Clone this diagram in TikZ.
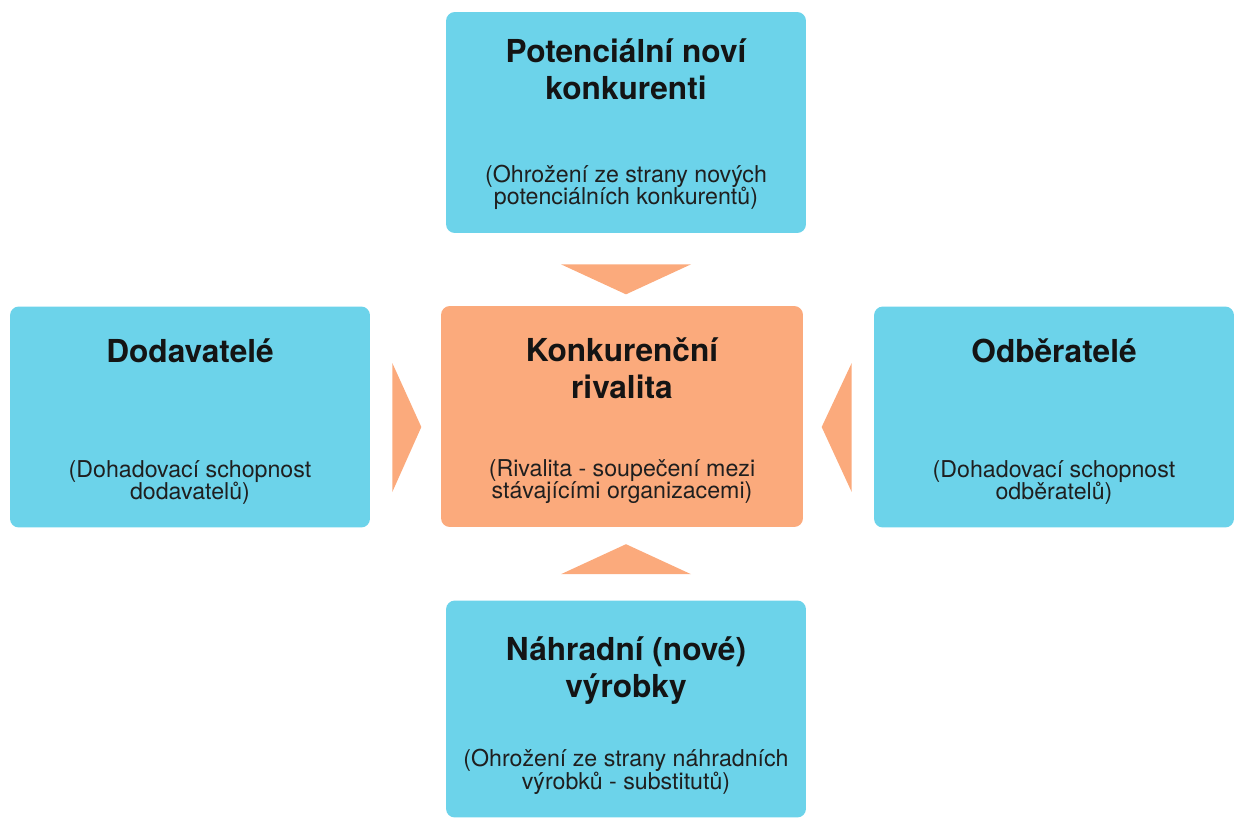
\documentclass[tikz,border=0pt]{standalone}
\usepackage{fontspec}
\setmainfont{TeX Gyre Heros}
\usepackage{tikz}
\usetikzlibrary{positioning,calc}
\usepackage{xcolor}
\definecolor{porterblue}{RGB}{108,211,234}
\definecolor{porterorange}{RGB}{251,170,124}

\begin{document}
\begin{tikzpicture}[
    x=0.02cm, y=-0.02cm,
    force/.style={rectangle, fill=porterblue, rounded corners=5pt,
                  minimum width=7.2cm, minimum height=4.42cm, inner sep=0pt},
    core/.style={force, fill=porterorange, minimum width=7.24cm},
    title/.style={align=center, inner sep=0pt, text=black!92,
                  font=\fontsize{18}{21}\selectfont\bfseries},
    note/.style={align=center, inner sep=0pt, text=black!88,
                 font=\fontsize{13.2}{12.8}\selectfont},
    wedge/.style={fill=porterorange}
]
\useasboundingbox (0,0) rectangle (1238,819);

\node[force] (entrants) at (626,122.5) {};
\node[force] (suppliers) at (190,417) {};
\node[core] (rivalry) at (622,416.5) {};
\node[force] (buyers) at (1054,417) {};
\node[force, minimum height=4.34cm] (substitutes) at (626,709) {};

\node[title, below=0.54cm of entrants.north] (entrantsT) {Potenciální noví\\konkurenti};
\node[note, above=0.46cm of entrants.south] (entrantsN) {(Ohrožení ze strany nových\\potenciálních konkurentů)};
\node[title, below=0.64cm of suppliers.north] (suppliersT) {Dodavatelé};
\node[note, above=0.46cm of suppliers.south] (suppliersN) {(Dohadovací schopnost\\dodavatelů)};
\node[title, below=0.64cm of rivalry.north] (rivalryT) {Konkurenční\\rivalita};
\node[note, above=0.46cm of rivalry.south] (rivalryN) {(Rivalita - soupečení mezi\\stávajícími organizacemi)};
\node[title, below=0.64cm of buyers.north] (buyersT) {Odběratelé};
\node[note, above=0.46cm of buyers.south] (buyersN) {(Dohadovací schopnost\\odběratelů)};
\node[title, below=0.73cm of substitutes.north] (substitutesT) {Náhradní (nové)\\výrobky};
\node[note, above=0.46cm of substitutes.south] (substitutesN) {(Ohrožení ze strany náhradních\\výrobků - substitutů)};

% wedges pointing at the rivalry box
\fill[wedge] ($(entrants.south)+(-65,31)$) -- ($(entrants.south)+(65,31)$) -- ($(entrants.south)+(0,61)$) -- cycle;
\fill[wedge] ($(substitutes.north)+(-65,-26)$) -- ($(substitutes.north)+(65,-26)$) -- ($(substitutes.north)+(0,-56)$) -- cycle;
\fill[wedge] ($(suppliers.east)+(22,-54)$) -- ($(suppliers.east)+(22,75)$) -- ($(suppliers.east)+(51,10)$) -- cycle;
\fill[wedge] ($(buyers.west)+(-22,-54)$) -- ($(buyers.west)+(-22,75)$) -- ($(buyers.west)+(-52,10)$) -- cycle;
\end{tikzpicture}
\end{document}
